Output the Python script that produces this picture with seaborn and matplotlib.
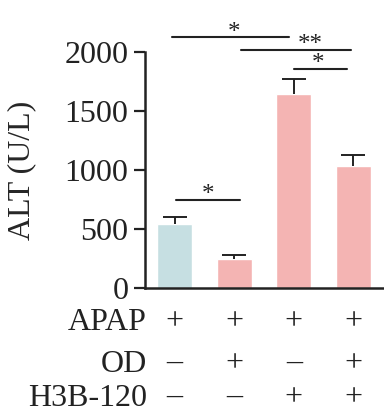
import matplotlib
matplotlib.use("Agg")
import matplotlib.pyplot as plt
import matplotlib.transforms as mtransforms
import seaborn as sns
import pandas as pd

groups = ["G1", "G2", "G3", "G4"]
alt_mean = [542, 246, 1644, 1034]
alt_sem = [58, 34, 127, 96]
bar_colors = ["#c6dfe2", "#f4b4b3", "#f4b4b3", "#f4b4b3"]

row_names = ["APAP", "OD", "H3B-120"]
row_signs = [["+", "+", "+", "+"],
             ["\u2013", "+", "\u2013", "+"],
             ["\u2013", "\u2013", "+", "+"]]

# significance brackets: (x start, x end, y, label, label x)
sig_lines = [(-0.05, 1.92, 2127, "*", 1.0),
             (1.11, 2.97, 2017, "**", 2.27),
             (2.0, 2.9, 1856, "*", 2.4),
             (0.02, 1.1, 746, "*", 0.56)]

sns.set_style("white")
plt.rcParams['font.family'] = ['Liberation Serif', 'DejaVu Serif']

df = pd.DataFrame({"group": groups, "alt": alt_mean})

fig = plt.figure(figsize=(3.84, 4.2), dpi=100)
ax = fig.add_axes([145 / 384, 132 / 420, 238 / 384, 236 / 420])

sns.barplot(data=df, x="group", y="alt", hue="group", palette=bar_colors,
            width=0.59, legend=False, ax=ax, saturation=1)
eb = ax.errorbar(range(len(groups)), alt_mean, yerr=[[0] * 4, alt_sem], fmt="none",
                 ecolor="#222222", elinewidth=1.4, capsize=8.5, capthick=1.4)
eb[1][0].set_visible(False)  # hide the cap sitting on the bar top

ax.set_xlim(-0.5, 3.5)
ax.set_ylim(0, 2000)
ax.set_yticks([0, 500, 1000, 1500, 2000])
ax.set_xticks([])
ax.set_xlabel("")
ax.set_ylabel("ALT (U/L)", fontsize=23, labelpad=20)
ax.tick_params(axis="y", direction="out", length=8, width=1.6, pad=4,
               labelsize=23, left=True, colors="#222222")
for side in ["top", "right"]:
    ax.spines[side].set_visible(False)
for side in ["left", "bottom"]:
    ax.spines[side].set_color("#222222")
    ax.spines[side].set_linewidth(1.8)

for x0, x1, y, lab, lx in sig_lines:
    ax.plot([x0, x1], [y, y], color="#222222", lw=1.5, clip_on=False)
    ax.text(lx, y - 55, lab, ha="center", va="bottom",
            fontsize=18, color="#222222", clip_on=False)

trans = mtransforms.blended_transform_factory(ax.transData, fig.transFigure)
row_y = [1 - 322 / 420, 1 - 364 / 420, 1 - 398 / 420]
for name, signs, yy in zip(row_names, row_signs, row_y):
    ax.text(-0.47, yy, name, transform=trans, ha="right", va="center",
            fontsize=23, color="#222222")
    for i, s in enumerate(signs):
        dy = 0.004 if s == "\u2013" else 0
        ax.text(i, yy + dy, s, transform=trans, ha="center", va="center",
                fontsize=23, color="#222222")

fig.savefig("out.png", dpi=100)
